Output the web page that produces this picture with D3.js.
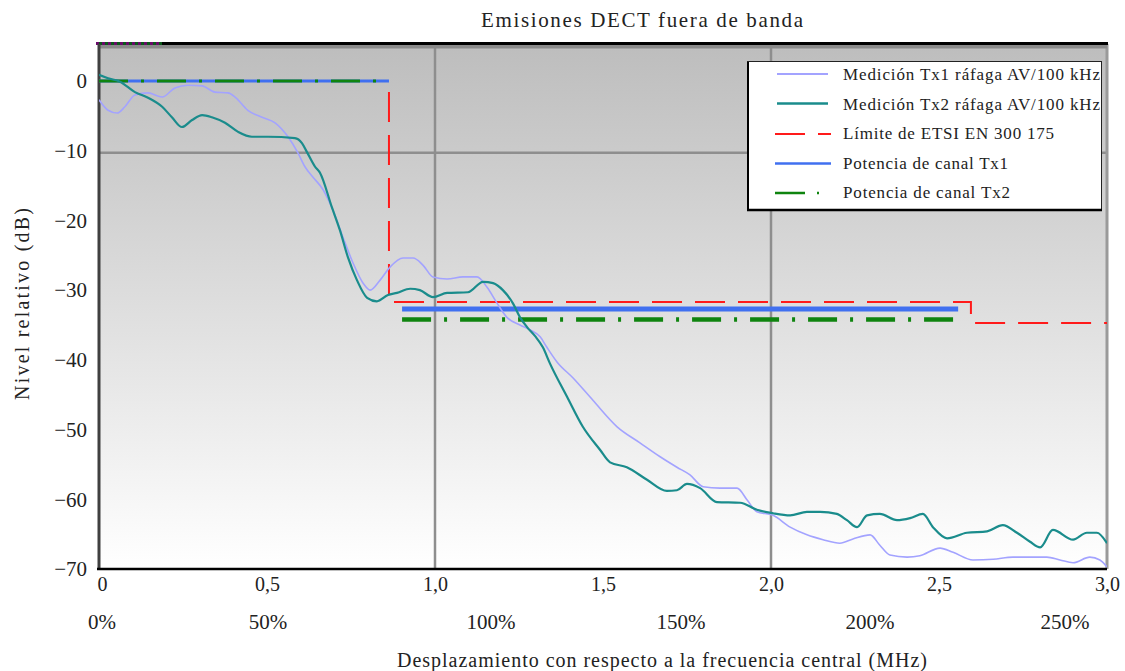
<!DOCTYPE html>
<html>
<head>
<meta charset="utf-8">
<script src="https://cdn.jsdelivr.net/npm/d3@7"></script>
<style>
  html, body { margin: 0; padding: 0; background: #ffffff; }
  svg { display: block; font-family: "Liberation Serif", "DejaVu Serif", serif; }
</style>
</head>
<body>
<svg id="chart" width="1125" height="671"></svg>
<script>
// Measured out-of-band spectrum, burst AV / 100 kHz (frequency offset in MHz, level in dB)
const tx1Freq = [0, 0.027, 0.054, 0.077, 0.107, 0.146, 0.188, 0.226, 0.265, 0.307, 0.345, 0.384, 0.405, 0.443, 0.485, 0.524, 0.5625, 0.592, 0.613, 0.637, 0.667, 0.696, 0.726, 0.756, 0.786, 0.807, 0.836, 0.866, 0.905, 0.935, 0.964, 0.994, 1.036, 1.083, 1.125, 1.155, 1.185, 1.214, 1.253, 1.283, 1.313, 1.333, 1.363, 1.411, 1.470, 1.542, 1.610, 1.670, 1.720, 1.759, 1.798, 1.848, 1.899, 1.929, 1.958, 2.006, 2.057, 2.107, 2.155, 2.205, 2.244, 2.295, 2.324, 2.354, 2.405, 2.443, 2.503, 2.542, 2.601, 2.661, 2.720, 2.771, 2.821, 2.860, 2.899, 2.949, 2.979, 3.0];
const tx1Level = [-2.7, -4.2, -4.6, -3.7, -2.0, -1.7, -2.3, -1.0, -0.6, -0.7, -1.6, -1.7, -2.3, -4.2, -5.2, -6.0, -8.0, -10.3, -12.3, -13.8, -15.6, -18.5, -22.4, -26.1, -29.0, -30.0, -28.6, -26.7, -25.4, -25.4, -26.4, -28.1, -28.4, -28.1, -28.1, -29.6, -31.9, -33.9, -35.0, -35.7, -36.7, -38.2, -40.3, -42.6, -45.8, -49.6, -51.9, -53.9, -55.4, -56.5, -58.2, -58.4, -58.4, -60.1, -61.8, -62.3, -64.0, -65.1, -65.8, -66.3, -65.7, -65.1, -66.6, -68.0, -68.3, -68.1, -67.0, -67.6, -68.7, -68.6, -68.3, -68.3, -68.3, -68.7, -69.1, -68.3, -68.7, -69.7];

const tx2Freq = [0, 0.027, 0.0625, 0.107, 0.146, 0.188, 0.217, 0.247, 0.277, 0.307, 0.336, 0.375, 0.414, 0.455, 0.503, 0.583, 0.604, 0.619, 0.643, 0.658, 0.693, 0.717, 0.741, 0.768, 0.798, 0.827, 0.860, 0.887, 0.926, 0.955, 0.994, 1.036, 1.098, 1.143, 1.173, 1.202, 1.232, 1.253, 1.274, 1.298, 1.321, 1.342, 1.393, 1.440, 1.491, 1.521, 1.571, 1.631, 1.690, 1.720, 1.750, 1.789, 1.839, 1.908, 1.958, 2.006, 2.057, 2.107, 2.146, 2.196, 2.226, 2.256, 2.286, 2.324, 2.375, 2.414, 2.452, 2.482, 2.524, 2.583, 2.643, 2.690, 2.732, 2.771, 2.801, 2.839, 2.899, 2.940, 2.970, 3.0];
const tx2Level = [0.9, 0.4, -0.1, -1.6, -2.4, -3.7, -5.2, -6.6, -5.6, -4.9, -5.2, -6.0, -7.3, -8.0, -8.0, -8.2, -8.9, -10.2, -12.3, -13.2, -18.1, -21.4, -25.3, -28.6, -31.1, -31.6, -30.7, -30.4, -29.8, -30.0, -31.0, -30.4, -30.3, -28.8, -29.0, -30.0, -31.9, -33.9, -35.3, -36.6, -38.2, -40.5, -45.3, -49.6, -52.9, -54.7, -55.4, -57.2, -58.8, -58.7, -57.8, -58.4, -60.4, -60.5, -61.5, -62.0, -62.3, -61.8, -61.8, -62.1, -63.0, -64.0, -62.3, -62.1, -63.0, -62.7, -62.1, -64.0, -65.6, -64.8, -64.6, -63.7, -64.8, -66.1, -66.9, -64.4, -65.8, -64.8, -64.8, -66.3];

// ETSI EN 300 175 mask
const limitFreq = [0, 0.863, 0.863, 2.595, 2.595, 3.0];
const limitLevel = [0, 0, -31.7, -31.7, -34.7, -34.7];

// Channel power bands
const bandStart = [0, 0.902];
const bandEnd = [0.863, 2.557];
const powerTx1 = [0, -32.7];
const powerTx2 = [0, -34.2];

// Axis ticks and labels
const xTicks = [0, 0.5, 1.0, 1.5, 2.0, 2.5, 3.0];
const xTickLabels = ["0", "0,5", "1,0", "1,5", "2,0", "2,5", "3,0"];
const yTicks = [0, -10, -20, -30, -40, -50, -60, -70];
const percentLabels = ["0%", "50%", "100%", "150%", "200%", "250%"];
const percentFreq = [0.009, 0.503, 1.167, 1.732, 2.295, 2.875];
const xGridLines = [1.0, 2.0];
const yGridLines = [-10];

const legendLabels = [
  "Medición Tx1 ráfaga AV/100 kHz",
  "Medición Tx2 ráfaga AV/100 kHz",
  "Límite de ETSI EN 300 175",
  "Potencia de canal Tx1",
  "Potencia de canal Tx2"
];

const svg = d3.select("#chart");
const plotLeft = 99, plotRight = 1107, plotTop = 44, plotBottom = 569;

const x = d3.scaleLinear().domain([0, 3]).range([plotLeft, plotRight]);
const y = d3.scaleLinear().domain([-70, 0]).range([plotBottom, 81]);

// Plot background: grey-to-white vertical gradient
const defs = svg.append("defs");
const grad = defs.append("linearGradient").attr("id", "bg").attr("x1", 0).attr("y1", 0).attr("x2", 0).attr("y2", 1);
grad.append("stop").attr("offset", "0%").attr("stop-color", "#bdbdbd");
grad.append("stop").attr("offset", "100%").attr("stop-color", "#ffffff");
defs.append("clipPath").attr("id", "plotClip").append("rect")
  .attr("x", plotLeft).attr("y", plotTop).attr("width", plotRight - plotLeft).attr("height", plotBottom - plotTop);

svg.append("rect").attr("x", plotLeft).attr("y", plotTop)
  .attr("width", plotRight - plotLeft).attr("height", plotBottom - plotTop)
  .attr("fill", "url(#bg)");

// Grid lines
svg.append("g").selectAll("line").data(xGridLines).join("line")
  .attr("x1", d => x(d)).attr("x2", d => x(d)).attr("y1", plotTop).attr("y2", plotBottom)
  .attr("stroke", "#8e8e8e").attr("stroke-width", 2.5);
svg.append("g").selectAll("line").data(yGridLines).join("line")
  .attr("x1", plotLeft).attr("x2", plotRight).attr("y1", d => y(d) + 2).attr("y2", d => y(d) + 2)
  .attr("stroke", "#8e8e8e").attr("stroke-width", 2.5);

// Frame
svg.append("line").attr("x1", plotRight).attr("x2", plotRight).attr("y1", plotTop).attr("y2", plotBottom)
  .attr("stroke", "#9a9a9a").attr("stroke-width", 3);
svg.append("rect").attr("x", plotLeft).attr("y", 45).attr("width", plotRight - plotLeft).attr("height", 3.5)
  .attr("fill", "#8a8a8a");
svg.append("line").attr("x1", 96).attr("x2", plotRight + 1).attr("y1", 43.5).attr("y2", 43.5)
  .attr("stroke", "#000").attr("stroke-width", 3);
svg.append("line").attr("x1", 96).attr("x2", 162).attr("y1", 43.5).attr("y2", 43.5)
  .attr("stroke", "#6a0a6a").attr("stroke-width", 3).attr("stroke-dasharray", "3,3");
svg.append("line").attr("x1", 99).attr("x2", 162).attr("y1", 43.5).attr("y2", 43.5)
  .attr("stroke", "#0b5a1a").attr("stroke-width", 3).attr("stroke-dasharray", "3,3");
svg.append("line").attr("x1", plotLeft).attr("x2", plotLeft).attr("y1", plotTop).attr("y2", plotBottom)
  .attr("stroke", "#404040").attr("stroke-width", 3);
svg.append("line").attr("x1", 97).attr("x2", plotRight).attr("y1", plotBottom).attr("y2", plotBottom)
  .attr("stroke", "#000").attr("stroke-width", 2.5);

const plot = svg.append("g").attr("clip-path", "url(#plotClip)");

// Limit mask
const limitPts = limitFreq.map((f, i) => [f, limitLevel[i]]);
plot.append("path").datum(limitPts)
  .attr("d", d3.line().x(d => x(d[0])).y(d => y(d[1])))
  .attr("fill", "none").attr("stroke", "#ff1a1a").attr("stroke-width", 2)
  .attr("stroke-dasharray", "30,13");

// Channel power Tx1 (solid blue) and Tx2 (green dash-dot)
const bands = bandStart.map((s, i) => ({ s, e: bandEnd[i], p1: powerTx1[i], p2: powerTx2[i] }));
plot.append("g").selectAll("line").data(bands).join("line")
  .attr("x1", d => x(d.s)).attr("x2", d => x(d.e))
  .attr("y1", d => y(d.p1)).attr("y2", d => y(d.p1))
  .attr("stroke", "#4070f0").attr("stroke-width", (d, i) => i === 0 ? 3 : 5);
plot.append("g").selectAll("line").data(bands).join("line")
  .attr("x1", d => x(d.s)).attr("x2", d => x(d.e))
  .attr("y1", d => y(d.p2)).attr("y2", d => y(d.p2))
  .attr("stroke", "#0f840f").attr("stroke-width", (d, i) => i === 0 ? 3 : 4.5)
  .attr("stroke-dasharray", "29,13,3,13");

// Measured curves
const line = d3.line().x(d => x(d[0])).y(d => y(d[1])).curve(d3.curveMonotoneX);
plot.append("path").datum(tx1Freq.map((f, i) => [f, tx1Level[i]]))
  .attr("d", line).attr("fill", "none").attr("stroke", "#a3a3ff").attr("stroke-width", 1.6);
plot.append("path").datum(tx2Freq.map((f, i) => [f, tx2Level[i]]))
  .attr("d", line).attr("fill", "none").attr("stroke", "#1a8c8c").attr("stroke-width", 2.2);

// Axes
const yAxis = svg.append("g").attr("transform", `translate(${plotLeft - 12},0)`)
  .call(d3.axisLeft(y).tickValues(yTicks).tickSize(0).tickPadding(0)
    .tickFormat(d => d < 0 ? "\u2212" + Math.abs(d) : String(d)));
yAxis.select(".domain").remove();
yAxis.selectAll("text").attr("font-family", "Liberation Serif").attr("font-size", 21).attr("fill", "#222");

const xAxis = svg.append("g").attr("transform", `translate(0,${plotBottom})`)
  .call(d3.axisBottom(x).tickValues(xTicks).tickSize(0).tickPadding(8)
    .tickFormat((d, i) => xTickLabels[i]));
xAxis.select(".domain").remove();
xAxis.selectAll("text").attr("font-family", "Liberation Serif").attr("font-size", 20).attr("fill", "#222")
  .attr("dx", (d, i) => i === 0 ? 3 : 0);

svg.append("g").selectAll("text").data(percentLabels).join("text")
  .attr("x", (d, i) => x(percentFreq[i])).attr("y", 629)
  .attr("text-anchor", "middle").attr("font-size", 21).attr("fill", "#222")
  .text(d => d);

// Titles
svg.append("text").attr("x", 642).attr("y", 27).attr("text-anchor", "middle")
  .attr("font-size", 21).attr("fill", "#222")
  .attr("textLength", 322).attr("lengthAdjust", "spacing")
  .text("Emisiones DECT fuera de banda");
svg.append("text").attr("x", 662).attr("y", 667).attr("text-anchor", "middle")
  .attr("font-size", 20).attr("fill", "#222")
  .attr("textLength", 530).attr("lengthAdjust", "spacing")
  .text("Desplazamiento con respecto a la frecuencia central (MHz)");
svg.append("text").attr("transform", "translate(29,304) rotate(-90)").attr("text-anchor", "middle")
  .attr("font-size", 20).attr("fill", "#222")
  .attr("textLength", 192).attr("lengthAdjust", "spacing")
  .text("Nivel relativo (dB)");

// Legend
const lg = svg.append("g");
lg.append("rect").attr("x", 747.5).attr("y", 61.5).attr("width", 354).attr("height", 149)
  .attr("fill", "#ffffff").attr("stroke", "#222").attr("stroke-width", 1);
lg.append("line").attr("x1", 748).attr("x2", 748).attr("y1", 62).attr("y2", 211)
  .attr("stroke", "#000").attr("stroke-width", 2);
lg.append("line").attr("x1", 747).attr("x2", 1102).attr("y1", 210).attr("y2", 210)
  .attr("stroke", "#000").attr("stroke-width", 2.5);

const rowY = i => 74 + i * 29.5;
const legendWidths = [257, 257, 211, 165, 167];
const swatch = [
  { c: "#a3a3ff", w: 2, dash: null },
  { c: "#1a8c8c", w: 2.5, dash: null },
  { c: "#ff1a1a", w: 2, dash: "30,13" },
  { c: "#4070f0", w: 2.5, dash: null },
  { c: "#0f840f", w: 2.5, dash: "30,12,2,20" }
];
legendLabels.forEach((lab, i) => {
  const s = swatch[i];
  const ln = lg.append("line")
    .attr("x1", i < 2 ? 777 : 775).attr("x2", i < 2 ? 828 : 831)
    .attr("y1", rowY(i) + (i >= 2 ? 1 : 0)).attr("y2", rowY(i) + (i >= 2 ? 1 : 0))
    .attr("stroke", s.c).attr("stroke-width", s.w);
  if (s.dash) ln.attr("stroke-dasharray", s.dash);
  lg.append("text").attr("x", 843).attr("y", rowY(i) + 6)
    .attr("font-size", 17).attr("fill", "#222")
    .attr("textLength", legendWidths[i]).attr("lengthAdjust", "spacing")
    .text(lab);
});
</script>
</body>
</html>
